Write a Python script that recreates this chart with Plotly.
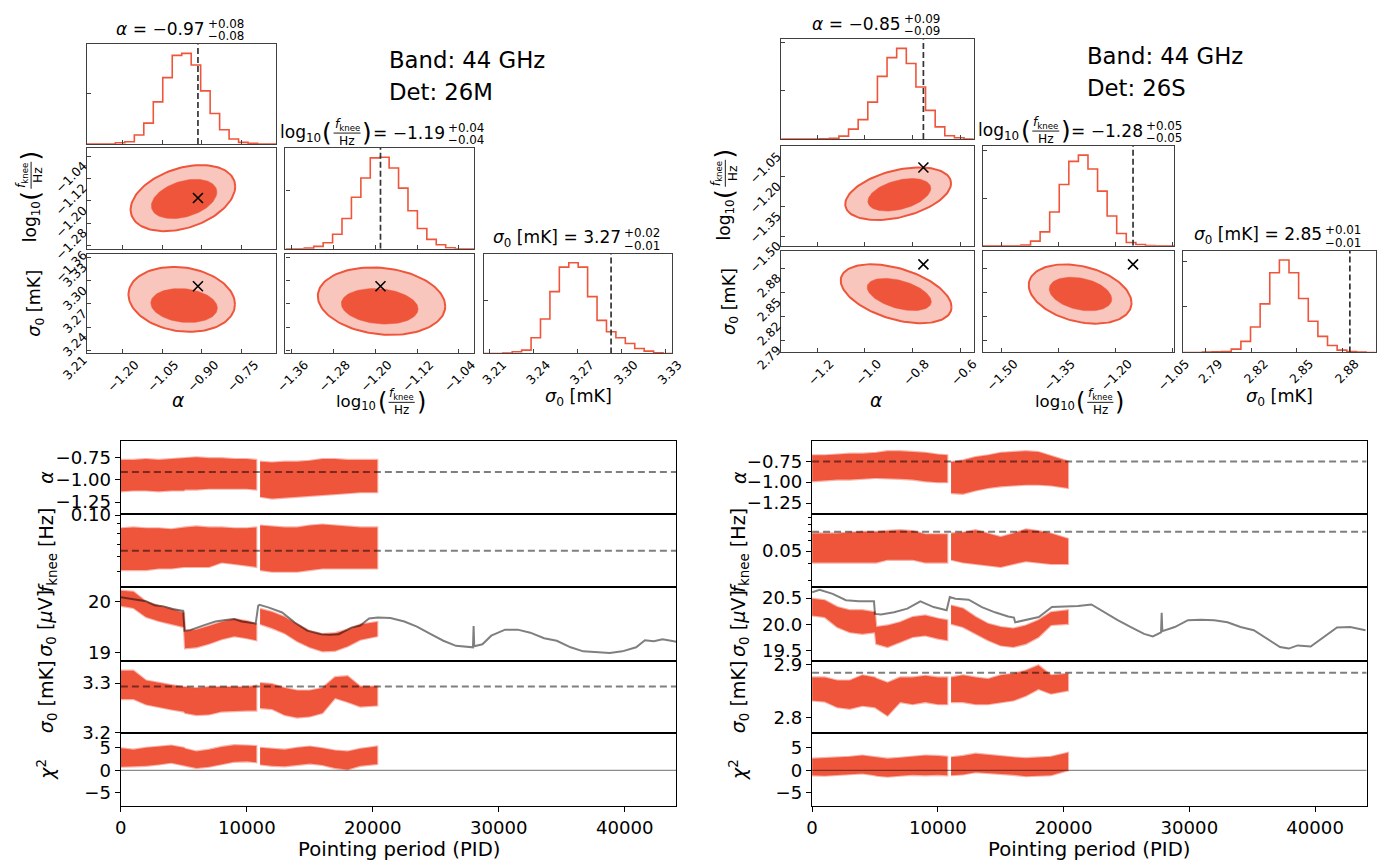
import numpy as np
import plotly.graph_objects as go

# Target picture is 1385 x 868. The page keeps the default 8 px body margin and is
# captured over a slightly larger area, so every position below is given in picture
# pixels and converted to figure coordinates with the measured scale factors.
W, H = 1385, 868
SX, SY = 0.981, 0.951
MARGIN = 8
FIG_W, FIG_H = 1394, 893
FS = 1.035

FONT = "DejaVu Sans"
RED = "#EF553B"
RED_LIGHT = "#F8C6BC"
RED_EDGE = "rgba(239,85,59,0.45)"
GREY = "rgba(0,0,0,0.5)"
FRAME = "#404040"

# ---------------- corner plots ----------------
# variable order: alpha, log10(fknee/Hz), sigma0 [mK]
L_RANGES = [[-1.332, -0.620], [-1.372, -1.011], [3.206, 3.335]]
R_RANGES = [[-1.351, -0.543], [-1.549, -1.046], [2.775, 2.902]]

L_TICKS = [[-1.20, -1.05, -0.90, -0.75], [-1.36, -1.28, -1.20, -1.12, -1.04], [3.21, 3.24, 3.27, 3.30, 3.33]]
R_TICKS = [[-1.2, -1.0, -0.8, -0.6], [-1.50, -1.35, -1.20, -1.05], [2.79, 2.82, 2.85, 2.88]]
L_TICK_DEC = [2, 2, 2]
R_TICK_DEC = [1, 2, 2]

L_TRUTH = [-0.915, -1.19, 3.293]
R_TRUTH = [-0.754, -1.154, 2.885]

# posterior summaries shown in the titles: median, +err, -err
L_SUMMARY = [["\u22120.97", "+0.08", "\u22120.08"], ["\u22121.19", "+0.04", "\u22120.04"], ["3.27", "+0.02", "\u22120.01"]]
R_SUMMARY = [["\u22120.85", "+0.09", "\u22120.09"], ["\u22121.28", "+0.05", "\u22120.05"], ["2.85", "+0.01", "\u22120.01"]]

# marginal histograms, 20 bins over each axis range
L_HIST = [
    [0, 0, 0, 4, 7, 27, 63, 127, 200, 267, 273, 238, 160, 92, 43, 15, 5, 2, 0, 0],
    [0, 0, 2, 7, 18, 43, 90, 153, 210, 270, 272, 240, 180, 113, 60, 28, 12, 3, 0, 0],
    [0, 0, 1, 5, 10, 47, 103, 185, 258, 271, 258, 170, 99, 65, 47, 30, 15, 7, 2, 0],
]
R_HIST = [
    [0, 0, 0, 0, 1, 2, 9, 30, 59, 112, 190, 247, 275, 229, 158, 87, 37, 10, 4, 0],
    [0, 0, 0, 0, 2, 14, 42, 102, 185, 255, 274, 232, 165, 90, 37, 10, 4, 1, 0, 0],
    [0, 0, 1, 2, 3, 10, 33, 76, 145, 238, 276, 238, 161, 93, 48, 21, 7, 3, 1, 0],
]
L_HIST_YTICKS = [[153], [173], [158]]
R_HIST_YTICKS = [[147, 294], [144, 287], [138, 273]]

# 2-D credible regions: [x centre, y centre, x half-width, y half-height]
L_AF_IN, L_AF_OUT, L_AF_RHO = [-0.967, -1.1935, 0.123, 0.0705], [-0.9715, -1.1905, 0.1965, 0.1185], 0.35
L_AS_IN, L_AS_OUT, L_AS_RHO = [-0.967, 3.268, 0.125, 0.022], [-0.976, 3.276, 0.200, 0.042], -0.15
L_FS_IN, L_FS_OUT, L_FS_RHO = [-1.1915, 3.267, 0.0735, 0.023], [-1.188, 3.2737, 0.122, 0.0436], -0.15
R_AF_IN, R_AF_OUT, R_AF_RHO = [-0.855, -1.292, 0.132, 0.082], [-0.86, -1.2865, 0.222, 0.1325], 0.40
R_AS_IN, R_AS_OUT, R_AS_RHO = [-0.8555, 2.8474, 0.1345, 0.0201], [-0.8685, 2.8483, 0.2325, 0.0368], -0.45
R_FS_IN, R_FS_OUT, R_FS_RHO = [-1.292, 2.848, 0.082, 0.021], [-1.293, 2.848, 0.135, 0.037], -0.30

# ---------------- time series (envelopes of the per-PID samples) ----------------
PID = [0, 1000, 2000, 3000, 4000, 5000, 5100, 6000, 7000, 8000, 9000, 10000, 10750,
       11050, 12000, 13000, 14000, 15000, 16000, 17000, 18000, 19000, 20350]
SPLIT = 13
PID_MAX = 44100

L_ALPHA_HI = [-0.78, -0.78, -0.77, -0.78, -0.77, -0.76, -0.76, -0.75, -0.76, -0.76, -0.77, -0.77, -0.78,
              -0.80, -0.81, -0.80, -0.80, -0.79, -0.77, -0.77, -0.78, -0.78, -0.78]
L_ALPHA_LO = [-1.13, -1.12, -1.12, -1.13, -1.12, -1.12, -1.11, -1.11, -1.10, -1.10, -1.10, -1.10, -1.11,
              -1.19, -1.21, -1.20, -1.19, -1.18, -1.17, -1.16, -1.15, -1.14, -1.14]
L_FK_HI = [0.085, 0.086, 0.085, 0.085, 0.084, 0.086, 0.086, 0.087, 0.086, 0.086, 0.085, 0.085, 0.086,
           0.088, 0.087, 0.086, 0.086, 0.088, 0.089, 0.088, 0.087, 0.086, 0.086]
L_FK_LO = [0.051, 0.051, 0.051, 0.052, 0.052, 0.053, 0.053, 0.053, 0.053, 0.056, 0.055, 0.054, 0.053,
           0.051, 0.050, 0.050, 0.050, 0.051, 0.052, 0.052, 0.052, 0.052, 0.052]
L_SUV_HI = [20.22, 20.20, 20.00, 19.92, 19.86, 19.78, 19.42, 19.45, 19.52, 19.60, 19.66, 19.62, 19.56,
            19.86, 19.80, 19.70, 19.55, 19.42, 19.36, 19.38, 19.45, 19.55, 19.60]
L_SUV_LO = [19.92, 19.88, 19.70, 19.62, 19.56, 19.50, 19.08, 19.10, 19.17, 19.26, 19.32, 19.28, 19.24,
            19.56, 19.48, 19.38, 19.22, 19.10, 19.02, 19.03, 19.12, 19.25, 19.32]
L_SMK_HI = [3.325, 3.325, 3.305, 3.300, 3.296, 3.292, 3.292, 3.290, 3.292, 3.292, 3.292, 3.292, 3.295,
            3.300, 3.298, 3.290, 3.285, 3.285, 3.290, 3.312, 3.314, 3.293, 3.293]
L_SMK_LO = [3.268, 3.268, 3.257, 3.252, 3.247, 3.243, 3.240, 3.236, 3.237, 3.243, 3.244, 3.245, 3.245,
            3.250, 3.248, 3.236, 3.231, 3.233, 3.240, 3.270, 3.262, 3.253, 3.255]
L_CHI_HI = [4.9, 4.6, 5.0, 5.3, 5.5, 5.0, 4.8, 4.2, 4.6, 5.2, 5.6, 5.5, 5.4,
            5.0, 4.8, 4.6, 5.0, 5.3, 4.9, 4.4, 4.2, 4.8, 5.3]
L_CHI_LO = [0.8, 0.9, 1.0, 1.3, 1.7, 1.2, 1.0, 0.5, 0.8, 1.4, 1.9, 2.0, 1.8,
            1.3, 1.0, 0.9, 1.2, 1.5, 1.2, 0.5, 0.2, 1.0, 1.4]

R_ALPHA_HI = [-0.68, -0.68, -0.67, -0.66, -0.66, -0.65, -0.65, -0.63, -0.63, -0.64, -0.65, -0.67, -0.68,
              -0.76, -0.74, -0.70, -0.68, -0.65, -0.64, -0.63, -0.64, -0.69, -0.75]
R_ALPHA_LO = [-0.99, -0.98, -0.97, -0.97, -0.96, -0.95, -0.95, -0.95, -0.96, -0.97, -0.99, -1.00, -1.00,
              -1.13, -1.14, -1.10, -1.07, -1.05, -1.04, -1.03, -1.03, -1.04, -1.07]
R_FK_HI = [0.068, 0.068, 0.068, 0.069, 0.070, 0.070, 0.070, 0.071, 0.072, 0.071, 0.067, 0.067, 0.067,
           0.068, 0.069, 0.072, 0.068, 0.064, 0.068, 0.073, 0.071, 0.068, 0.062]
R_FK_LO = [0.041, 0.041, 0.041, 0.041, 0.041, 0.041, 0.041, 0.043, 0.043, 0.043, 0.041, 0.041, 0.041,
           0.043, 0.041, 0.040, 0.039, 0.038, 0.040, 0.042, 0.041, 0.040, 0.040]
R_SUV_HI = [20.49, 20.46, 20.33, 20.27, 20.27, 20.23, 19.95, 19.98, 20.04, 20.14, 20.17, 20.11, 20.08,
            20.36, 20.30, 20.14, 20.01, 19.95, 19.92, 19.98, 20.08, 20.23, 20.27]
R_SUV_LO = [20.17, 20.14, 19.95, 19.85, 19.82, 19.85, 19.63, 19.57, 19.67, 19.76, 19.79, 19.73, 19.70,
            20.01, 19.95, 19.82, 19.70, 19.60, 19.57, 19.63, 19.76, 19.99, 20.01]
R_SMK_HI = [2.876, 2.876, 2.870, 2.870, 2.880, 2.876, 2.874, 2.866, 2.876, 2.876, 2.879, 2.876, 2.876,
            2.876, 2.880, 2.876, 2.873, 2.880, 2.883, 2.889, 2.899, 2.880, 2.883]
R_SMK_LO = [2.832, 2.830, 2.819, 2.816, 2.822, 2.819, 2.818, 2.803, 2.829, 2.825, 2.829, 2.825, 2.825,
            2.829, 2.829, 2.825, 2.825, 2.829, 2.832, 2.841, 2.854, 2.845, 2.851]
R_CHI_HI = [2.6, 2.7, 2.8, 3.0, 3.3, 3.0, 2.9, 2.6, 2.8, 3.1, 3.3, 3.2, 3.0,
            2.9, 3.2, 3.7, 3.4, 3.1, 2.9, 2.7, 2.8, 3.0, 3.9]
R_CHI_LO = [-1.1, -1.2, -1.0, -0.9, -0.7, -1.1, -1.2, -1.4, -1.2, -1.0, -1.1, -1.0, -1.1,
            -1.1, -0.9, -0.4, -0.6, -0.8, -1.0, -1.3, -1.2, -1.1, 0.0]

# white-noise level from the instrument model, full mission
L_GREY_PID = [0, 1000, 2000, 2700, 3400, 4100, 4950, 5050, 5500, 6500, 7500, 8300, 9000, 9600, 10700,
              10900, 11000, 11700, 12800, 13800, 14800, 15900, 16600, 17300, 18300, 19000, 19700, 20400,
              21400, 22500, 23500, 24600, 25600, 26600, 27700, 27950, 28000, 28050, 28700, 29400, 30500,
              31500, 32500, 33600, 34600, 35700, 36700, 37700, 38800, 39800, 40900, 41600, 42300, 43000, 44100]
L_GREY_VAL = [20.09, 20.05, 20.01, 19.93, 19.91, 19.86, 19.82, 19.43, 19.44, 19.53, 19.61, 19.64, 19.66, 19.61, 19.57,
              19.92, 19.94, 19.89, 19.79, 19.59, 19.43, 19.36, 19.35, 19.36, 19.49, 19.53, 19.67, 19.69,
              19.68, 19.61, 19.51, 19.36, 19.23, 19.13, 19.10, 19.10, 19.52, 19.12, 19.16, 19.33, 19.45,
              19.45, 19.39, 19.28, 19.23, 19.10, 19.02, 19.00, 18.99, 19.02, 19.10, 19.24, 19.22, 19.26, 19.21]
R_GREY_PID = [0, 600, 1640, 2690, 3730, 4920, 5000, 5480, 6520, 7570, 8610, 9660, 10700, 10950, 11400,
              12450, 13500, 14540, 15590, 16050, 16150, 16980, 18030, 19070, 20120, 21160, 22210, 23260,
              24300, 25350, 26400, 27100, 27750, 27800, 27850, 28840, 29890, 30940, 31980, 33030, 34070,
              35120, 36160, 37210, 37910, 38610, 39650, 40700, 41740, 42790, 44010]
R_GREY_VAL = [20.61, 20.66, 20.58, 20.46, 20.44, 20.44, 20.20, 20.19, 20.23, 20.30, 20.44, 20.33, 20.27, 20.52, 20.49,
              20.47, 20.33, 20.23, 20.15, 20.13, 20.04, 20.08, 20.14, 20.33, 20.34, 20.35, 20.38, 20.23,
              20.08, 19.95, 19.82, 19.77, 19.85, 20.22, 19.87, 19.95, 20.08, 20.09, 20.08, 20.04, 19.95,
              19.89, 19.73, 19.57, 19.54, 19.60, 19.58, 19.76, 19.94, 19.95, 19.89]

# ---------------- layout helpers ----------------
fig = go.Figure()
layout = dict(width=FIG_W, height=FIG_H, margin=dict(l=0, r=0, t=0, b=0), paper_bgcolor="white",
              plot_bgcolor="white", showlegend=False, font=dict(family=FONT, color="black"))
annotations = []
shapes = []
n_axes = [0]


def fx(x):
    return min(1.0, max(0.0, (x / SX - MARGIN) / FIG_W))


def fy(y):
    return min(1.0, max(0.0, 1 - (y / SY - MARGIN) / FIG_H))


# advance widths (em) of DejaVu Sans glyphs used in the titles
CHAR_EM = {".": 0.318, "\u2212": 0.838, "+": 0.838, "=": 0.838, " ": 0.318, "[": 0.39, "]": 0.39,
           "m": 0.974, "K": 0.656}


def text_em(s):
    return sum(CHAR_EM.get(c, 0.636) for c in s)


def ann(x, y, text, size, xanchor="center", yanchor="middle", angle=0):
    annotations.append(dict(x=fx(x), y=fy(y), xref="paper", yref="paper", text=text, showarrow=False,
                            font=dict(size=size * FS, family=FONT, color="black"), xanchor=xanchor,
                            yanchor=yanchor, textangle=angle, borderpad=0))


def pline(x0, y0, x1, y1, width=1.0):
    shapes.append(dict(type="line", xref="paper", yref="paper", x0=fx(x0), y0=fy(y0),
                       x1=fx(x1), y1=fy(y1), line=dict(color="black", width=width)))


def add_axes(box, xcfg, ycfg):
    n_axes[0] += 1
    k = n_axes[0]
    sfx = "" if k == 1 else str(k)
    x0, y0, x1, y1 = box
    layout["xaxis" + sfx] = dict(domain=[fx(x0), fx(x1)], anchor="y" + sfx, **xcfg)
    layout["yaxis" + sfx] = dict(domain=[fy(y1), fy(y0)], anchor="x" + sfx, **ycfg)
    return "x" + sfx, "y" + sfx


def fmt(v, dec):
    return f"{v:.{dec}f}".replace("-", "\u2212")


FRAC_LOG, FRAC_PAR, FRAC_BODY = 2.75, 0.5, 1.95


def fknee_label(S, cx=None, cy=None, start=None, vertical=False):
    """log10(f_knee / Hz) with a stacked fraction."""
    L_log, L_par, L_frac = FRAC_LOG * S, FRAC_PAR * S, FRAC_BODY * S
    total = L_log + 2 * L_par + L_frac
    offs = [L_log / 2, L_log + L_par / 2, L_log + L_par + L_frac / 2, L_log + L_par + L_frac + L_par / 2]
    d = 0.46 * S
    if not vertical:
        x0 = start if start is not None else cx - total / 2
        ann(x0 + offs[0], cy, "log<sub>10</sub>", S)
        ann(x0 + offs[1], cy - 0.05 * S, "(", 1.45 * S)
        ann(x0 + offs[3], cy - 0.05 * S, ")", 1.45 * S)
        fc = x0 + offs[2]
        ann(fc, cy - d - 0.05 * S, "<i>f</i><sub>knee</sub>", 0.72 * S)
        ann(fc, cy + d, "Hz", 0.72 * S)
        pline(fc - 0.42 * L_frac, cy, fc + 0.42 * L_frac, cy, 0.9)
    else:
        y0 = cy + total / 2
        ann(cx, y0 - offs[0], "log<sub>10</sub>", S, angle=-90)
        ann(cx - 0.05 * S, y0 - offs[1], "(", 1.45 * S, angle=-90)
        ann(cx - 0.05 * S, y0 - offs[3], ")", 1.45 * S, angle=-90)
        fc = y0 - offs[2]
        ann(cx - d - 0.05 * S, fc, "<i>f</i><sub>knee</sub>", 0.72 * S, angle=-90)
        ann(cx + d, fc, "Hz", 0.72 * S, angle=-90)
        pline(cx, fc - 0.42 * L_frac, cx, fc + 0.42 * L_frac, 0.9)
    return total


TITLE_PX, ERR_PX = 16.5, 11.5


def corner_title(k, cx, cy, summary):
    med, up, dn = summary
    err_w = text_em(up) * ERR_PX
    if k == 1:
        val = "= " + med
        frac_w = (FRAC_LOG + 2 * FRAC_PAR + FRAC_BODY) * TITLE_PX
        gap = 0.3 * TITLE_PX
        total = frac_w + gap + text_em(val) * TITLE_PX + 1 + err_w
        x0 = cx - total / 2
        fknee_label(TITLE_PX, cy=cy, start=x0)
        xs = x0 + frac_w + gap + text_em(val) * TITLE_PX
        ann(xs, cy, val, TITLE_PX, xanchor="right")
    else:
        if k == 0:
            html, em = "<i>α</i> = " + med, 0.66 + text_em(" = " + med)
        else:
            html, em = "<i>σ</i><sub>0</sub> [mK] = " + med, 0.60 + 0.445 + text_em(" [mK] = " + med)
        total = em * TITLE_PX + 1 + err_w
        xs = cx - total / 2 + em * TITLE_PX
        ann(xs, cy, html, TITLE_PX, xanchor="right")
    ann(xs + 1, cy - 0.33 * TITLE_PX, up, ERR_PX, xanchor="left")
    ann(xs + 1, cy + 0.42 * TITLE_PX, dn, ERR_PX, xanchor="left")


def ellipse(p, rho, n=120):
    t = np.linspace(0, 2 * np.pi, n)
    cx, cy, rx, ry = p
    return cx + rx * np.cos(t), cy + ry * (rho * np.cos(t) + np.sqrt(1 - rho ** 2) * np.sin(t))


def corner_cfg(rng, ticks, dec, labels, is_x):
    cfg = dict(range=rng, tickmode="array", tickvals=ticks, ticktext=[fmt(t, dec) for t in ticks],
               showticklabels=labels, ticks="inside", ticklen=4, tickwidth=1, tickcolor=FRAME,
               showline=True, mirror=True, linecolor=FRAME, linewidth=1.3, showgrid=False,
               zeroline=False, tickangle=-45, tickfont=dict(size=12 * FS, family=FONT),
               ticklabelshift=13 if is_x else 8)
    if is_x:
        cfg["ticklabelstandoff"] = -2
    return cfg


def draw_corner(cols, rows, ranges, ticks, decs, hists, hist_yt, truth, regions, summary):
    for i in range(3):
        for j in range(i + 1):
            box = (cols[j][0], rows[i][0], cols[j][1], rows[i][1])
            xcfg = corner_cfg(ranges[j], ticks[j], decs[j], i == 2, True)
            if i == j:
                counts = hists[i]
                top = 1.1 * max(counts)
                ycfg = dict(range=[0, top], tickmode="array", tickvals=hist_yt[i], showticklabels=False,
                            ticks="inside", ticklen=4, tickcolor=FRAME, showline=True, mirror=True,
                            linecolor=FRAME, linewidth=1.3, showgrid=False, zeroline=False)
                xa, ya = add_axes(box, xcfg, ycfg)
                edges = np.linspace(ranges[i][0], ranges[i][1], len(counts) + 1)
                fig.add_trace(go.Scatter(x=edges, y=list(counts) + [counts[-1]], mode="lines",
                                         line=dict(color=RED, width=1.6, shape="hv"),
                                         xaxis=xa, yaxis=ya, hoverinfo="skip"))
                fig.add_trace(go.Scatter(x=[truth[i], truth[i]], y=[0, top], mode="lines",
                                         line=dict(color="#333333", width=1.7, dash="6px,3px"),
                                         xaxis=xa, yaxis=ya, hoverinfo="skip"))
                corner_title(i, (cols[j][0] + cols[j][1]) / 2, rows[i][0] - 15, summary[i])
            else:
                ycfg = corner_cfg(ranges[i], ticks[i], decs[i], j == 0, False)
                xa, ya = add_axes(box, xcfg, ycfg)
                inner, outer, rho = regions[(i, j)]
                ox, oy = ellipse(outer, rho)
                ix, iy = ellipse(inner, rho)
                fig.add_trace(go.Scatter(x=ox, y=oy, mode="lines", fill="toself", fillcolor=RED_LIGHT,
                                         line=dict(color=RED, width=2), xaxis=xa, yaxis=ya, hoverinfo="skip"))
                fig.add_trace(go.Scatter(x=ix, y=iy, mode="lines", fill="toself", fillcolor=RED,
                                         line=dict(color=RED, width=0.5), xaxis=xa, yaxis=ya, hoverinfo="skip"))
                fig.add_trace(go.Scatter(x=[truth[j]], y=[truth[i]], mode="markers",
                                         marker=dict(symbol="x-thin", size=10, line=dict(width=1.6, color="black")),
                                         xaxis=xa, yaxis=ya, hoverinfo="skip"))


L_COLS = [(83, 273), (282, 471), (481, 670)]
L_ROWS = [(42, 142), (146, 247), (252, 352)]
R_COLS = [(779, 972), (981, 1173), (1182, 1375)]
R_ROWS = [(37, 137), (144, 244), (249, 351)]

draw_corner(L_COLS, L_ROWS, L_RANGES, L_TICKS, L_TICK_DEC, L_HIST, L_HIST_YTICKS, L_TRUTH,
            {(1, 0): (L_AF_IN, L_AF_OUT, L_AF_RHO), (2, 0): (L_AS_IN, L_AS_OUT, L_AS_RHO),
             (2, 1): (L_FS_IN, L_FS_OUT, L_FS_RHO)}, L_SUMMARY)
draw_corner(R_COLS, R_ROWS, R_RANGES, R_TICKS, R_TICK_DEC, R_HIST, R_HIST_YTICKS, R_TRUTH,
            {(1, 0): (R_AF_IN, R_AF_OUT, R_AF_RHO), (2, 0): (R_AS_IN, R_AS_OUT, R_AS_RHO),
             (2, 1): (R_FS_IN, R_FS_OUT, R_FS_RHO)}, R_SUMMARY)

# corner axis labels
ann(174, 399, "<i>α</i>", 18)
fknee_label(16, cx=376.5, cy=401)
ann(575.5, 396, "<i>σ</i><sub>0</sub> [mK]", 17)
fknee_label(16.5, cx=27, cy=196, vertical=True)
ann(32, 302, "<i>σ</i><sub>0</sub> [mK]", 17, angle=-90)

ann(874, 399, "<i>α</i>", 18)
fknee_label(16, cx=1077, cy=401)
ann(1278.5, 396, "<i>σ</i><sub>0</sub> [mK]", 17)
fknee_label(16.5, cx=723, cy=194, vertical=True)
ann(728, 300, "<i>σ</i><sub>0</sub> [mK]", 17, angle=-90)

# band / detector labels
ann(385, 58, "Band: 44 GHz", 22, xanchor="left")
ann(385, 90, "Det: 26M", 22, xanchor="left")
ann(1085, 54, "Band: 44 GHz", 22, xanchor="left")
ann(1085, 86, "Det: 26S", 22, xanchor="left")

# ---------------- time-series stacks ----------------
ROWS_TS = [(440, 513), (513, 586), (586, 660), (660, 733), (733, 806)]
YLABELS = ["<i>α</i>", "<i>f</i><sub>knee</sub> [Hz]", "<i>σ</i><sub>0</sub> [<i>μ</i>V]",
           "<i>σ</i><sub>0</sub> [mK]", "<i>χ</i><sup>2</sup>"]


def draw_stack(x0, x1, label_x, panels):
    for k, p in enumerate(panels):
        last = k == len(panels) - 1
        xcfg = dict(range=[0, PID_MAX], tickmode="array", tickvals=[0, 10000, 20000, 30000, 40000],
                    ticktext=["0", "10000", "20000", "30000", "40000"], showticklabels=last,
                    ticks="outside" if last else "", ticklen=5, tickwidth=1.2, tickcolor="black",
                    showline=True, mirror=True, linecolor="black", linewidth=1.4, showgrid=False,
                    zeroline=False, tickfont=dict(size=17.5 * FS, family=FONT))
        ycfg = dict(range=p["range"], type=p.get("type", "linear"), tickmode="array",
                    tickvals=p["tickvals"], ticktext=p["ticktext"], ticks="outside", ticklen=5,
                    tickwidth=1.2, tickcolor="black", showline=True, mirror=True, linecolor="black",
                    linewidth=1.4, showgrid=False, zeroline=False, tickfont=dict(size=17.5 * FS, family=FONT))
        if "minor" in p:
            ycfg["minor"] = dict(tickvals=p["minor"], ticks="outside", ticklen=3, tickcolor="black",
                                 tickwidth=1, showgrid=False)
        xa, ya = add_axes((x0, ROWS_TS[k][0], x1, ROWS_TS[k][1]), xcfg, ycfg)
        for seg in (slice(0, SPLIT), slice(SPLIT, len(PID))):
            xs = PID[seg]
            hi = p["hi"][seg]
            lo = p["lo"][seg]
            fig.add_trace(go.Scatter(x=xs + xs[::-1], y=hi + lo[::-1], mode="lines", fill="toself",
                                     fillcolor=RED, line=dict(color=RED_EDGE, width=2.2),
                                     xaxis=xa, yaxis=ya, hoverinfo="skip"))
        if "truth" in p:
            fig.add_trace(go.Scatter(x=[0, PID_MAX], y=[p["truth"], p["truth"]], mode="lines",
                                     line=dict(color=GREY, width=2, dash="7px,4px"),
                                     xaxis=xa, yaxis=ya, hoverinfo="skip"))
        if "grey" in p:
            fig.add_trace(go.Scatter(x=p["grey"][0], y=p["grey"][1], mode="lines",
                                     line=dict(color=GREY, width=2), xaxis=xa, yaxis=ya, hoverinfo="skip"))
        if "zero" in p:
            fig.add_trace(go.Scatter(x=[0, PID_MAX], y=[0, 0], mode="lines",
                                     line=dict(color="rgba(0,0,0,0.45)", width=1.2),
                                     xaxis=xa, yaxis=ya, hoverinfo="skip"))
        ann(label_x, (ROWS_TS[k][0] + ROWS_TS[k][1]) / 2, YLABELS[k], 18.5, angle=-90)
    ann((x0 + x1) / 2, 849, "Pointing period (PID)", 19)


draw_stack(117, 674, 43, [
    dict(range=[-1.383, -0.572], tickvals=[-1.25, -1.0, -0.75], ticktext=["\u22121.25", "\u22121.00", "\u22120.75"],
         hi=L_ALPHA_HI, lo=L_ALPHA_LO, truth=L_TRUTH[0]),
    dict(range=[np.log10(0.0415), np.log10(0.1013)], type="log", tickvals=[0.1], ticktext=["0.10"],
         minor=[0.05, 0.06, 0.07, 0.08, 0.09], hi=L_FK_HI, lo=L_FK_LO, truth=10 ** L_TRUTH[1]),
    dict(range=[18.836, 20.296], tickvals=[19, 20], ticktext=["19", "20"],
         hi=L_SUV_HI, lo=L_SUV_LO, grey=(L_GREY_PID, L_GREY_VAL)),
    dict(range=[3.199, 3.345], tickvals=[3.2, 3.3], ticktext=["3.2", "3.3"],
         hi=L_SMK_HI, lo=L_SMK_LO, truth=L_TRUTH[2]),
    dict(range=[-8.0, 8.2], tickvals=[-5, 0, 5], ticktext=["\u22125", "0", "5"],
         hi=L_CHI_HI, lo=L_CHI_LO, zero=True),
])

draw_stack(810, 1366, 737, [
    dict(range=[-1.381, -0.512], tickvals=[-1.25, -1.0, -0.75], ticktext=["\u22121.25", "\u22121.00", "\u22120.75"],
         hi=R_ALPHA_HI, lo=R_ALPHA_LO, truth=R_TRUTH[0]),
    dict(range=[-1.571, -1.021], type="log", tickvals=[0.05], ticktext=["0.05"],
         minor=[0.03, 0.04, 0.06, 0.07, 0.08, 0.09], hi=R_FK_HI, lo=R_FK_LO, truth=10 ** R_TRUTH[1]),
    dict(range=[19.31, 20.714], tickvals=[19.5, 20.0, 20.5], ticktext=["19.5", "20.0", "20.5"],
         hi=R_SUV_HI, lo=R_SUV_LO, grey=(R_GREY_PID, R_GREY_VAL)),
    dict(range=[2.769, 2.908], tickvals=[2.8, 2.9], ticktext=["2.8", "2.9"],
         hi=R_SMK_HI, lo=R_SMK_LO, truth=R_TRUTH[2]),
    dict(range=[-8.0, 8.2], tickvals=[-5, 0, 5], ticktext=["\u22125", "0", "5"],
         hi=R_CHI_HI, lo=R_CHI_LO, zero=True),
])

layout["annotations"] = annotations
layout["shapes"] = shapes
fig.update_layout(**layout)
fig.write_html("out.html")
